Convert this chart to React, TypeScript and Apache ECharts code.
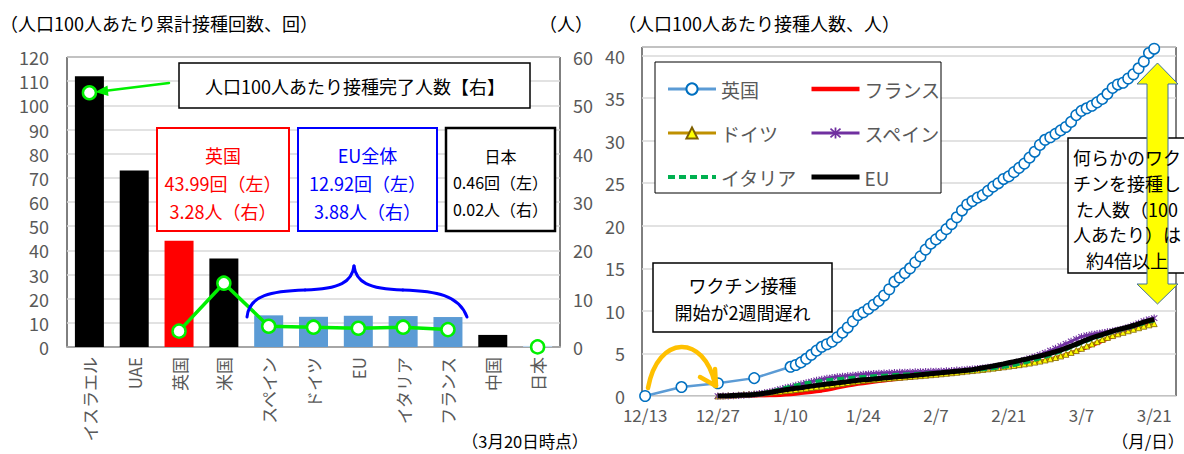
import React, { useEffect, useRef } from "react";
import * as echarts from "echarts";

const FONT = '"Noto Sans CJK JP", "Noto Sans", sans-serif';

// ---------- Left chart data ----------
const barCategories = ["イスラエル", "UAE", "英国", "米国", "スペイン", "ドイツ", "EU", "イタリア", "フランス", "中国", "日本"];
const dosesPer100 = [112, 73, 43.99, 36.6, 13.1, 12.5, 12.92, 12.8, 12.4, 5.0, 0.46];
const fullyVaccinatedPer100 = [52.6, null, 3.28, 13.2, 4.3, 4.1, 3.88, 4.1, 3.6, null, 0.02];
const leftTicks = { min: 0, max: 120, interval: 10 };
const rightTicks = { min: 0, max: 60, interval: 10 };

// ---------- Right chart data ----------
const xTickLabels = ["12/13", "12/27", "1/10", "1/24", "2/7", "2/21", "3/7", "3/21"];
const ukEarlyDates = ["12/13", "12/20", "12/27", "1/3"];
const ukEarlyValues = [0, 1.05, 1.5, 2.1];
const ukDailyStart = "1/10";
const ukDailyValues = [
  3.43, 3.64, 3.95, 4.37, 4.84, 5.33, 5.78,
  6.08, 6.39, 6.9, 7.44, 8.05, 8.77, 9.51,
  9.84, 10.25, 10.72, 11.18, 11.81, 12.54, 13.43,
  13.92, 14.45, 15.0, 15.7, 16.4, 17.2, 17.9,
  18.4, 18.9, 19.6, 20.2, 21.0, 21.8, 22.5,
  22.9, 23.3, 23.6, 24.1, 24.6, 25.0, 25.5,
  25.8, 26.3, 26.8, 27.3, 28.0, 28.7, 29.5,
  30.1, 30.4, 30.8, 31.2, 31.6, 32.2, 33.0,
  33.5, 33.8, 34.1, 34.5, 34.9, 35.5, 36.2,
  36.6, 36.8, 37.3, 37.8, 38.5, 39.3, 40.3,
  40.8,
];
const euDailyStart = "12/27";
const franceValues = [
  0.0, 0.0, 0.0, 0.0, 0.0, 0.0, 0.01,
  0.01, 0.02, 0.03, 0.05, 0.07, 0.1, 0.14,
  0.18, 0.24, 0.31, 0.38, 0.45, 0.52, 0.6,
  0.7, 0.82, 0.95, 1.08, 1.2, 1.3, 1.4,
  1.48, 1.56, 1.64, 1.72, 1.8, 1.88, 1.95,
  2.02, 2.08, 2.14, 2.2, 2.27, 2.34, 2.4,
  2.46, 2.52, 2.58, 2.64, 2.71, 2.78, 2.85,
  2.92, 2.98, 3.05, 3.12, 3.2, 3.28, 3.36,
  3.44, 3.52, 3.61, 3.7, 3.8, 3.92, 4.05,
  4.18, 4.32, 4.48, 4.66, 4.85, 5.05, 5.26,
  5.48, 5.7, 5.94, 6.18, 6.44, 6.7, 6.96,
  7.22, 7.46, 7.7, 7.94, 8.18, 8.4, 8.6,
  8.75,
];
const germanyValues = [
  0.0, 0.02, 0.05, 0.09, 0.14, 0.18, 0.22,
  0.26, 0.31, 0.37, 0.43, 0.5, 0.56, 0.62,
  0.68, 0.75, 0.83, 0.91, 0.99, 1.07, 1.15,
  1.23, 1.31, 1.4, 1.49, 1.58, 1.67, 1.76,
  1.84, 1.9, 1.95, 2.0, 2.05, 2.1, 2.15,
  2.19, 2.24, 2.29, 2.34, 2.39, 2.44, 2.5,
  2.55, 2.61, 2.67, 2.73, 2.79, 2.86, 2.93,
  2.99, 3.05, 3.12, 3.19, 3.27, 3.35, 3.43,
  3.51, 3.59, 3.68, 3.77, 3.87, 3.98, 4.1,
  4.23, 4.37, 4.52, 4.7, 4.9, 5.12, 5.35,
  5.6, 5.86, 6.12, 6.38, 6.64, 6.88, 7.1,
  7.3, 7.48, 7.66, 7.84, 8.02, 8.2, 8.36,
  8.5,
];
const spainValues = [
  0.0, 0.0, 0.01, 0.03, 0.06, 0.1, 0.14,
  0.2, 0.28, 0.38, 0.5, 0.64, 0.8, 0.96,
  1.1, 1.25, 1.4, 1.55, 1.7, 1.84, 1.97,
  2.08, 2.17, 2.25, 2.32, 2.38, 2.44, 2.5,
  2.55, 2.59, 2.63, 2.67, 2.7, 2.73, 2.76,
  2.78, 2.8, 2.82, 2.84, 2.86, 2.88, 2.9,
  2.92, 2.94, 2.97, 3.0, 3.04, 3.08, 3.13,
  3.18, 3.24, 3.3, 3.37, 3.45, 3.53, 3.62,
  3.74, 3.88, 4.04, 4.22, 4.42, 4.62, 4.84,
  5.08, 5.34, 5.6, 5.86, 6.14, 6.42, 6.7,
  6.96, 7.12, 7.24, 7.34, 7.44, 7.54, 7.64,
  7.76, 7.9, 8.08, 8.3, 8.55, 8.8, 9.0,
  9.15,
];
const italyValues = [
  0.0, 0.01, 0.03, 0.06, 0.09, 0.13, 0.17,
  0.22, 0.3, 0.4, 0.52, 0.66, 0.82, 0.98,
  1.14, 1.28, 1.4, 1.52, 1.62, 1.72, 1.8,
  1.88, 1.95, 2.01, 2.07, 2.12, 2.17, 2.22,
  2.26, 2.3, 2.34, 2.38, 2.42, 2.46, 2.5,
  2.53, 2.56, 2.59, 2.62, 2.65, 2.68, 2.71,
  2.74, 2.77, 2.8, 2.84, 2.88, 2.92, 2.96,
  3.0, 3.05, 3.1, 3.16, 3.23, 3.31, 3.4,
  3.5, 3.62, 3.75, 3.9, 4.05, 4.22, 4.4,
  4.58, 4.78, 5.0, 5.22, 5.45, 5.7, 5.95,
  6.2, 6.44, 6.68, 6.9, 7.1, 7.3, 7.5,
  7.68, 7.84, 8.0, 8.16, 8.34, 8.52, 8.7,
  8.85,
];
const euValues = [
  0.0, 0.01, 0.03, 0.06, 0.09, 0.11, 0.13,
  0.17, 0.24, 0.32, 0.41, 0.52, 0.63, 0.74,
  0.82, 0.9, 0.98, 1.07, 1.16, 1.25, 1.33,
  1.4, 1.47, 1.54, 1.61, 1.69, 1.77, 1.84,
  1.9, 1.95, 2.0, 2.06, 2.12, 2.18, 2.23,
  2.28, 2.33, 2.38, 2.44, 2.5, 2.56, 2.62,
  2.67, 2.72, 2.78, 2.84, 2.9, 2.96, 3.03,
  3.1, 3.2, 3.31, 3.42, 3.53, 3.65, 3.77,
  3.9, 4.02, 4.15, 4.28, 4.42, 4.56, 4.7,
  4.85, 5.02, 5.2, 5.4, 5.62, 5.85, 6.1,
  6.35, 6.6, 6.82, 7.02, 7.22, 7.42, 7.62,
  7.8, 7.95, 8.1, 8.28, 8.48, 8.68, 8.85,
  9.0,
];

// ---------- helpers ----------
const BASE = Date.UTC(2020, 11, 13);
const dayIndex = (md: string) => {
  const [m, d] = md.split("/").map(Number);
  const y = m === 12 ? 2020 : 2021;
  return Math.round((Date.UTC(y, m - 1, d) - BASE) / 86400000);
};
const dayLabel = (v: number) => {
  const d = new Date(BASE + Math.round(v) * 86400000);
  return `${d.getUTCMonth() + 1}/${d.getUTCDate()}`;
};
const dailySeries = (start: string, vals: number[]) => {
  const s = dayIndex(start);
  return vals.map((v, i) => [s + i, v]);
};

const barColor = (name: string) => {
  if (name === "英国") return "#FF0000";
  if (["スペイン", "ドイツ", "EU", "イタリア", "フランス"].includes(name)) return "#5B9BD5";
  if (name === "日本") return "#BDD7EE";
  return "#000000";
};

const ASTERISK =
  "path://M4.3,0 L5.7,0 L5.7,10 L4.3,10 Z M0.6,1.7 L1.5,0.6 L9.4,8.3 L8.5,9.4 Z M8.5,0.6 L9.4,1.7 L1.5,9.4 L0.6,8.3 Z";

const GRAY = "#595959";
const GREEN = "#00F000";

function txt(x: number, y: number, text: string, opts: any = {}) {
  const align = opts.align || "center";
  return {
    type: "text",
    x,
    y,
    z: opts.z ?? 20,
    style: {
      text,
      fill: opts.fill || "#000",
      fontSize: opts.fontSize || 18,
      fontFamily: FONT,
      lineHeight: opts.lineHeight,
      align,
      textAlign: align,
      verticalAlign: "middle",
      textVerticalAlign: "middle",
    },
  };
}
function box(x: number, y: number, w: number, h: number, stroke: string, lw: number, z = 15) {
  return {
    type: "rect",
    z,
    shape: { x, y, width: w, height: h },
    style: { fill: "#fff", stroke, lineWidth: lw },
  };
}
function bez(x1: number, y1: number, cx1: number, cy1: number, cx2: number, cy2: number, x2: number, y2: number, stroke: string, lw: number) {
  return {
    type: "bezierCurve",
    z: 20,
    shape: { x1, y1, cpx1: cx1, cpy1: cy1, cpx2: cx2, cpy2: cy2, x2, y2 },
    style: { stroke, lineWidth: lw, fill: null, lineCap: "round" },
  };
}
function ln(x1: number, y1: number, x2: number, y2: number, stroke: string, lw: number) {
  return {
    type: "line",
    z: 20,
    shape: { x1, y1, x2, y2 },
    style: { stroke, lineWidth: lw, lineCap: "round" },
  };
}

export default function App() {
  const ref = useRef<HTMLDivElement>(null);
  useEffect(() => {
    if (!ref.current) return;
    const chart = echarts.init(ref.current, undefined, { renderer: "svg" });

    const ukData = [
      ...ukEarlyDates.map((d, i) => [dayIndex(d), ukEarlyValues[i]]),
      ...dailySeries(ukDailyStart, ukDailyValues),
    ];

    const graphics: any[] = [
      // titles
      txt(0, 23, "（人口100人あたり累計接種回数、回）", { align: "left" }),
      txt(566, 23, "（人）"),
      txt(618, 23, "（人口100人あたり接種人数、人）", { align: "left" }),
      txt(525, 441, "（3月20日時点）", { fontSize: 16.5 }),
      txt(1148, 441, "（月/日）", { fontSize: 16.5 }),

      // left annotations
      box(179, 63, 351, 45, "#000", 1.5),
      txt(355, 86, "人口100人あたり接種完了人数【右】"),
      ln(169, 83, 106, 90.8, GREEN, 2.5),
      {
        type: "polygon",
        z: 20,
        shape: { points: [[95, 92], [107.5, 85.5], [108.5, 96]] },
        style: { fill: GREEN },
      },
      box(157, 128, 132, 103, "#FF0000", 2),
      txt(223, 183, "英国\n43.99回（左）\n3.28人（右）", { fill: "#FF0000", lineHeight: 28 }),
      box(298, 128, 139, 103, "#0000FF", 2),
      txt(367.5, 183, "EU全体\n12.92回（左）\n3.88人（右）", { fill: "#0000FF", lineHeight: 28 }),
      box(446, 128, 109, 103, "#000", 2.5),
      txt(500.5, 182, "日本\n0.46回（左）\n0.02人（右）", { fontSize: 16, lineHeight: 26.5 }),
      // brace
      bez(247, 317, 249, 295, 272, 291, 305, 290, "#0000FF", 3),
      bez(305, 290, 340, 289, 352, 282, 354, 266, "#0000FF", 3),
      bez(354, 266, 356, 282, 368, 289, 403, 290, "#0000FF", 3),
      bez(403, 290, 436, 291, 459, 295, 467, 317, "#0000FF", 3),

      // right annotations
      box(655, 62, 286, 131, "#000", 1, 3),
      box(653, 263, 179, 69, "#000", 1.5),
      txt(742.5, 298.5, "ワクチン接種\n開始が2週間遅れ", { lineHeight: 27 }),
      bez(648, 388, 658, 334, 704, 334, 715, 384, "#FFC000", 4.5),
      ln(700, 377, 716, 386, "#FFC000", 4.5),
      ln(715, 369, 716, 386, "#FFC000", 4.5),
      {
        type: "polygon",
        z: 18,
        shape: {
          points: [
            [1157.5, 63], [1178, 84], [1168, 84], [1168, 284], [1178, 284],
            [1157.5, 304], [1137, 284], [1147, 284], [1147, 84], [1137, 84],
          ],
        },
        style: { fill: "#FFFF00", stroke: "#41719C", lineWidth: 1 },
      },
      box(1068, 138, 150, 135, "#000", 1.5),
      txt(1127, 208.5, "何らかのワク\nチンを接種し\nた人数（100\n人あたり）は\n約4倍以上", { lineHeight: 25.8 }),
    ];

    const legendText = { color: GRAY, fontSize: 19, lineHeight: 20, fontFamily: FONT };
    const item = (name: string, width: number, hideSymbol = false) => {
      const o: any = { name, lineStyle: { width } };
      if (hideSymbol) o.itemStyle = { opacity: 0 };
      return o;
    };

    const option: any = {
      animation: false,
      backgroundColor: "#fff",
      textStyle: { fontFamily: FONT },
      grid: [
        { left: 67, top: 57, width: 493, height: 290, show: true, borderColor: "#000", borderWidth: 1 },
        { left: 642, top: 47, width: 534, height: 349, show: true, borderColor: "#000", borderWidth: 1 },
      ],
      legend: [
        {
          data: [item("英国", 3), item("ドイツ", 3), item("イタリア", 4, true)],
          orient: "vertical",
          left: 661,
          top: 74,
          itemWidth: 48,
          itemHeight: 14,
          itemGap: 24,
          textStyle: legendText,
        },
        {
          data: [item("フランス", 4.5, true), item("スペイン", 3), item("EU", 5, true)],
          orient: "vertical",
          left: 804,
          top: 74,
          itemWidth: 48,
          itemHeight: 14,
          itemGap: 24,
          textStyle: legendText,
        },
      ],
      xAxis: [
        {
          type: "category",
          gridIndex: 0,
          data: barCategories,
          axisLine: { lineStyle: { color: "#A6A6A6", width: 2 } },
          axisTick: { show: false },
          axisLabel: { rotate: 90, color: GRAY, fontSize: 17, margin: 10, fontFamily: FONT },
        },
        {
          type: "value",
          gridIndex: 1,
          min: -0.6,
          max: 102.2,
          axisLine: { show: true, onZero: false, lineStyle: { color: "#D9D9D9" } },
          axisTick: { show: false },
          splitLine: { show: false },
          axisLabel: {
            customValues: xTickLabels.map(dayIndex),
            formatter: (v: number) => dayLabel(v),
            color: GRAY,
            fontSize: 17,
            margin: 10,
            fontFamily: FONT,
          },
        },
      ],
      yAxis: [
        {
          type: "value",
          gridIndex: 0,
          ...leftTicks,
          axisLine: { show: false },
          axisTick: { show: false },
          splitLine: { lineStyle: { color: "#D9D9D9", width: 1.5 } },
          axisLabel: { color: GRAY, fontSize: 18, margin: 18, fontFamily: FONT },
        },
        {
          type: "value",
          gridIndex: 0,
          position: "right",
          ...rightTicks,
          axisLine: { show: false },
          axisTick: { show: false },
          splitLine: { show: false },
          axisLabel: { color: GRAY, fontSize: 18, margin: 13, fontFamily: FONT },
        },
        {
          type: "value",
          gridIndex: 1,
          min: 0,
          max: 41,
          interval: 5,
          axisLine: { show: false },
          axisTick: { show: false },
          splitLine: { lineStyle: { color: "#D9D9D9", width: 1.5 } },
          axisLabel: {
            color: GRAY,
            fontSize: 18,
            margin: 17,
            fontFamily: FONT,
            formatter: (v: number) => (v % 5 === 0 ? String(v) : ""),
          },
        },
      ],
      series: [
        {
          type: "bar",
          xAxisIndex: 0,
          yAxisIndex: 0,
          barWidth: 29,
          data: dosesPer100.map((v, i) => ({ value: v, itemStyle: { color: barColor(barCategories[i]) } })),
        },
        {
          type: "line",
          name: "接種完了",
          xAxisIndex: 0,
          yAxisIndex: 1,
          data: fullyVaccinatedPer100,
          connectNulls: false,
          symbol: "circle",
          symbolSize: 13,
          showAllSymbol: true,
          lineStyle: { color: GREEN, width: 3.5 },
          itemStyle: { color: "#fff", borderColor: GREEN, borderWidth: 2.5 },
          z: 5,
        },
        {
          type: "line",
          name: "フランス",
          xAxisIndex: 1,
          yAxisIndex: 2,
          data: dailySeries(euDailyStart, franceValues),
          symbol: "none",
          color: "#FF0000",
          lineStyle: { color: "#FF0000", width: 3.5 },
          z: 2,
        },
        {
          type: "line",
          name: "ドイツ",
          xAxisIndex: 1,
          yAxisIndex: 2,
          data: dailySeries(euDailyStart, germanyValues),
          symbol: "triangle",
          symbolSize: 6,
          showAllSymbol: true,
          color: "#BF9000",
          lineStyle: { color: "#BF9000", width: 2.5 },
          itemStyle: { color: "#FFFF00", borderColor: "#7F6000", borderWidth: 0.8 },
          z: 2,
        },
        {
          type: "line",
          name: "スペイン",
          xAxisIndex: 1,
          yAxisIndex: 2,
          data: dailySeries(euDailyStart, spainValues),
          symbol: ASTERISK,
          symbolSize: 7,
          showAllSymbol: true,
          color: "#7030A0",
          lineStyle: { color: "#7030A0", width: 2.5 },
          itemStyle: { color: "#7030A0" },
          z: 2,
        },
        {
          type: "line",
          name: "イタリア",
          xAxisIndex: 1,
          yAxisIndex: 2,
          data: dailySeries(euDailyStart, italyValues),
          symbol: "none",
          color: "#00B050",
          lineStyle: { color: "#00B050", width: 3.5, type: [7, 4] },
          z: 3,
        },
        {
          type: "line",
          name: "EU",
          xAxisIndex: 1,
          yAxisIndex: 2,
          data: dailySeries(euDailyStart, euValues),
          symbol: "none",
          color: "#000000",
          lineStyle: { color: "#000000", width: 5 },
          z: 4,
        },
        {
          type: "line",
          name: "英国",
          xAxisIndex: 1,
          yAxisIndex: 2,
          data: ukData,
          symbol: "circle",
          symbolSize: 10.5,
          showAllSymbol: true,
          color: "#5B9BD5",
          lineStyle: { color: "#5B9BD5", width: 2.5 },
          itemStyle: { color: "#fff", borderColor: "#0070C0", borderWidth: 1.5 },
          z: 5,
        },
      ],
      graphic: { elements: graphics },
    };

    chart.setOption(option);
    return () => chart.dispose();
  }, []);

  return (
    <div
      ref={ref}
      style={{ position: "absolute", left: 0, top: 0, width: 1184, height: 454, background: "#fff" }}
    />
  );
}
